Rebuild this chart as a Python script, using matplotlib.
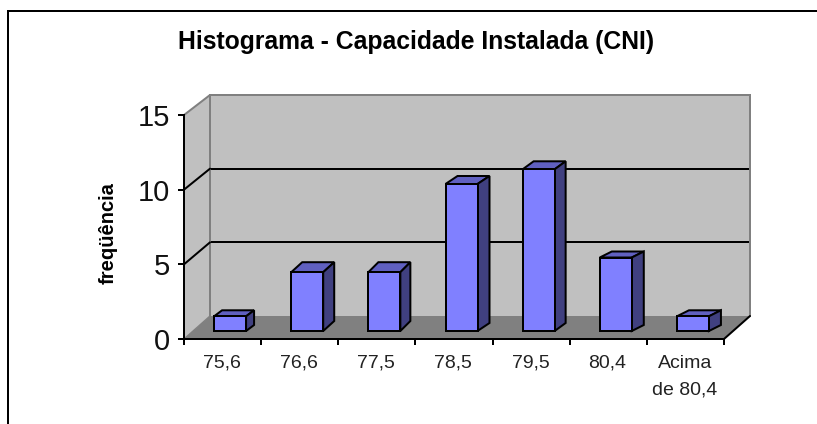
import matplotlib
matplotlib.use("Agg")
import matplotlib.pyplot as plt
from matplotlib.lines import Line2D
from matplotlib.patches import Polygon

categories = ["75,6", "76,6", "77,5", "78,5", "79,5", "80,4", "Acima\nde 80,4"]
frequencies = [1, 4, 4, 10, 11, 5, 1]
y_ticks = [0, 5, 10, 15]
title = "Histograma - Capacidade Instalada (CNI)"
y_label = "freqüência"

W, H = 817, 424
plt.rcParams["font.family"] = ["Liberation Sans", "DejaVu Sans"]
LW = 2 * 72 / 100  # two pixels
WALL, FLOOR, EDGE = "#C0C0C0", "#808080", "#808080"
FACE, TOP, SIDE = "#8080FF", "#6060C0", "#404080"

fig = plt.figure(figsize=(W / 100, H / 100), dpi=100, facecolor="white")


def make_axes(left, right, top, bottom):
    ax = fig.add_axes([left / W, 1 - bottom / H, (right - left) / W, (bottom - top) / H])
    ax.set_xlim(0, len(categories))
    ax.set_ylim(0, 15)
    ax.patch.set_alpha(0)
    return ax


def hide(ax):
    ax.set_xticks([])
    ax.set_yticks([])
    for s in ax.spines.values():
        s.set_visible(False)


# chart frame, open towards the right and bottom image edges
fig.add_artist(Line2D([8.3 / W, 8.3 / W, 1], [0, 1 - 11 / H, 1 - 11 / H],
                      color="black", lw=LW, solid_joinstyle="miter"))

# back wall
ax_back = make_axes(210, 750, 95, 316)
hide(ax_back)
ax_back.patch.set_alpha(1)
ax_back.patch.set_facecolor(WALL)
for v in y_ticks[1:-1]:
    ax_back.axhline(v, color="black", lw=LW)
ax_back.plot([0, 0, 7, 7], [0, 15, 15, 0], color=EDGE, lw=LW, clip_on=False,
             solid_joinstyle="miter")

# front plane: floor, side wall, axes
ax = make_axes(184, 724, 115, 339)


def back_pt(x, y):
    px = ax_back.transData.transform((x, y))
    return tuple(ax.transData.inverted().transform(px))


ax.add_patch(Polygon([(0, 0), (7, 0), back_pt(7, 0), back_pt(0, 0)],
                     fc=FLOOR, ec="none", clip_on=False))
ax.add_patch(Polygon([(0, 0), back_pt(0, 0), back_pt(0, 15), (0, 15)],
                     fc=WALL, ec="none", clip_on=False))
ax_line = dict(clip_on=False, solid_capstyle="round")
ax.plot(*zip((0, 0), back_pt(0, 0)), color=EDGE, lw=1, **ax_line)
ax.plot(*zip((0, 15), back_pt(0, 15)), color=EDGE, lw=LW, **ax_line)
ax.plot(*zip(back_pt(0, 0), back_pt(0, 15)), color=EDGE, lw=LW, **ax_line)
ax.plot(*zip((7, 0), back_pt(7, 0)), color="black", lw=LW, **ax_line)
for v in y_ticks[1:-1]:
    ax.plot(*zip((0, v), back_pt(0, v)), color="black", lw=LW, **ax_line)

for name in ("top", "right"):
    ax.spines[name].set_visible(False)
for name in ("left", "bottom"):
    ax.spines[name].set_linewidth(LW)
ax.set_yticks(y_ticks)
ax.set_yticklabels([str(v) for v in y_ticks], fontsize=21, color="#111111")
ax.tick_params(axis="y", length=4.5, width=LW, pad=5.5)
ax.set_xticks(range(len(categories) + 1))
ax.set_xticklabels([])
ax.tick_params(axis="x", length=4, width=LW)
for i, label in enumerate(categories):
    ax.annotate(label, (i + 0.5, 0), xytext=(-0.5, -11.5), textcoords="offset points",
                ha="center", va="top", fontsize=14,
                color="#222222", linespacing=1.76, annotation_clip=False)

# bars, on a plane between the front and the back wall
ax_bar = make_axes(191.5, 731.5, 110.5, 331)
hide(ax_bar)
BAR_W = 32 / (540 / 7)
DEPTH_DX = [8, 11, 10, 12, 11, 12, 12]
DEPTH_DY = [6, 10, 10, 8, 8, 6, 6]
UX, UY = 7 / 540, 15 / 220.5
xs = [i + 0.5 for i in range(len(categories))]
ax_bar.bar(xs, frequencies, width=BAR_W, color=FACE, edgecolor="black", lw=LW, clip_on=False,
           zorder=3)
for x, v, ddx, ddy in zip(xs, frequencies, DEPTH_DX, DEPTH_DY):
    l, r = x - BAR_W / 2, x + BAR_W / 2
    dx, dy = ddx * UX, ddy * UY
    ax_bar.add_patch(Polygon([(l, v), (r, v), (r + dx, v + dy), (l + dx, v + dy)],
                             fc=TOP, ec="black", lw=LW, joinstyle="miter", clip_on=False, zorder=2))
    ax_bar.add_patch(Polygon([(r, 0), (r + dx, dy), (r + dx, v + dy), (r, v)],
                             fc=SIDE, ec="black", lw=LW, joinstyle="miter", clip_on=False, zorder=2))

fig.text(416 / W, 1 - 42 / H, title, ha="center", va="center", fontsize=17.85,
         fontweight="bold", color="black")
fig.text(108 / W, 1 - 233 / H, y_label, ha="center", va="center", rotation=90,
         fontsize=14.5, fontweight="bold", color="black")

fig.savefig("out.png", dpi=100)
